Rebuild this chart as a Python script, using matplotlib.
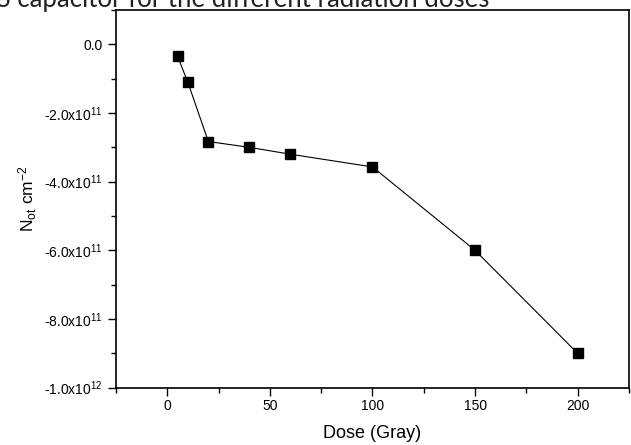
import matplotlib
matplotlib.use("Agg")
import matplotlib.pyplot as plt
from matplotlib.ticker import FuncFormatter, MultipleLocator

plt.rcParams['font.family'] = ['Liberation Sans', 'DejaVu Sans']
plt.rcParams['mathtext.fontset'] = 'custom'
plt.rcParams['mathtext.rm'] = 'Liberation Sans'
plt.rcParams['mathtext.it'] = 'Liberation Sans:italic'

# radiation dose (Gray) vs oxide trapped charge density
dose = [5, 10, 20, 40, 60, 100, 150, 200]
n_ot = [-0.35e11, -1.1e11, -2.83e11, -3.0e11, -3.2e11, -3.57e11, -6.0e11, -9.0e11]


def sci_fmt(v, pos):
    if abs(v) < 1:
        return '0.0'
    exp = len(str(int(abs(v)))) - 1
    mant = v / 10 ** exp
    return r'%.1fx10$^{%d}$' % (mant, exp)


fig = plt.figure(figsize=(6.31, 4.45), dpi=100)
ax = fig.add_axes([0.1838, 0.1288, 0.813, 0.8487])

ax.plot(dose, n_ot, color='black', lw=0.8, marker='s', ms=6.5, mfc='black', mec='black')

ax.set_xlim(-25, 225)
ax.set_ylim(-1e12, 1e11)
ax.xaxis.set_major_locator(MultipleLocator(50))
ax.xaxis.set_minor_locator(MultipleLocator(25))
ax.yaxis.set_major_locator(MultipleLocator(2e11))
ax.yaxis.set_minor_locator(MultipleLocator(1e11))
ax.yaxis.set_major_formatter(FuncFormatter(sci_fmt))

ax.tick_params(which='major', direction='out', length=6, width=1, labelsize=10)
ax.tick_params(axis='x', which='major', pad=2.5)
ax.tick_params(which='minor', direction='out', length=3.5, width=1)
for s in ax.spines.values():
    s.set_linewidth(1.2)

ax.set_xlabel('Dose (Gray)', fontsize=13, labelpad=8)
ax.set_ylabel(r'N$_{\rm ot}$ cm$^{-2}$', fontsize=12.5, labelpad=4)

# caption line running off the top edge
fig.text(489 / 631, 1 - 7 / 445, 'MOS capacitor for the different radiation doses',
         ha='right', va='baseline', fontsize=18.5, family=['Lato', 'DejaVu Sans'], color='#222222')

fig.savefig('out.png', dpi=100)
